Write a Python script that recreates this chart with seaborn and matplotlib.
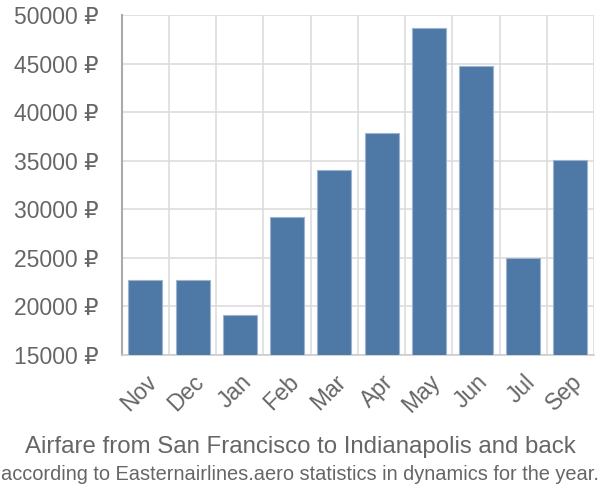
import matplotlib
matplotlib.use("Agg")
import matplotlib.pyplot as plt
import numpy as np
import pandas as pd
import seaborn as sns

months = ["Nov", "Dec", "Jan", "Feb", "Mar", "Apr", "May", "Jun", "Jul", "Sep"]
prices = [22700, 22700, 19100, 29200, 34000, 37850, 48650, 44800, 25000, 35100]
y_ticks = [15000, 20000, 25000, 30000, 35000, 40000, 45000, 50000]

title = "Airfare from San Francisco to Indianapolis and back"
subtitle = "according to Easternairlines.aero statistics in dynamics for the year."

df = pd.DataFrame({"month": months, "price": prices})

sns.set_style("white")
plt.rcParams["font.family"] = ["Liberation Sans", "DejaVu Sans"]

fig = plt.figure(figsize=(6, 5), dpi=100)
ax = fig.add_axes([0.203, 0.29, 0.787, 0.68])

sns.barplot(data=df, x="month", y="price", color="#4e78a6", width=0.72,
            edgecolor="#9db3cf", linewidth=0.8, saturation=1, ax=ax, zorder=3)

ax.set_xlim(-0.5, len(months) - 0.5)
ax.set_ylim(y_ticks[0], y_ticks[-1])
ax.set_yticks(y_ticks)
ax.set_yticklabels([f"{v} ₽" for v in y_ticks])

# gridlines between categories
ax.set_xticks(np.arange(len(months) + 1) - 0.5, minor=True)
ax.grid(True, which="minor", axis="x", color="#dddddd", linewidth=1.2, zorder=0)
ax.grid(True, which="major", axis="y", color="#dddddd", linewidth=1.2, zorder=0)
ax.tick_params(axis="x", which="major", length=0, pad=11)
ax.tick_params(axis="x", which="minor", length=13, color="#dddddd", width=1.2)
ax.tick_params(axis="y", length=16, color="#dddddd", width=1.2, pad=1)
plt.setp(ax.get_xticklabels(), rotation=45, ha="right", rotation_mode="anchor",
         fontsize=16.5, color="#666666")
plt.setp(ax.get_yticklabels(), fontsize=16.5, color="#666666")
for lbl in ax.get_xticklabels():
    lbl.set_x(lbl.get_position()[0])

for side in ["top", "right"]:
    ax.spines[side].set_visible(False)
ax.spines["left"].set_color("#aaaaaa")
ax.spines["left"].set_linewidth(1.5)
ax.spines["bottom"].set_color("#cccccc")
ax.spines["bottom"].set_linewidth(1.2)

ax.set_xlabel("")
ax.set_ylabel("")

fig.text(0.5, 0.107, title, ha="center", va="center", fontsize=17.3, color="#666666")
fig.text(0.5, 0.05, subtitle, ha="center", va="center", fontsize=14.4, color="#666666")

fig.savefig("out.png", dpi=100)
